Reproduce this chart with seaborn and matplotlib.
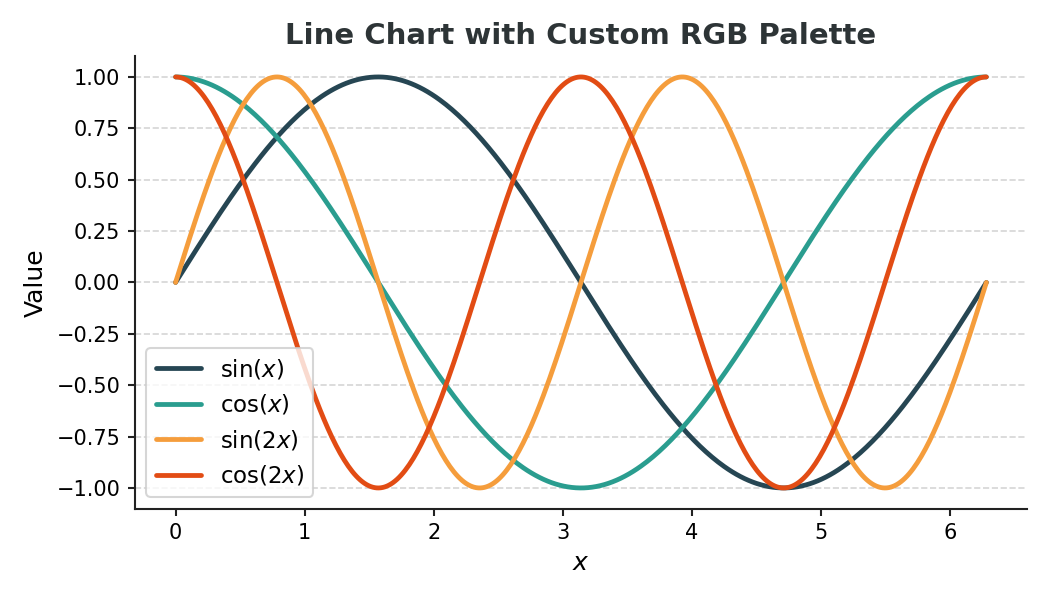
import numpy as np
import pandas as pd
import matplotlib
matplotlib.use("Agg")
import matplotlib.pyplot as plt
import seaborn as sns

# Data: the chart plots these four functions over [0, 2*pi]
x_values = np.linspace(0, 2 * np.pi, 400)
series_names = ["sin($x$)", "cos($x$)", "sin($2x$)", "cos($2x$)"]
sin_x = np.sin(x_values)
cos_x = np.cos(x_values)
sin_2x = np.sin(2 * x_values)
cos_2x = np.cos(2 * x_values)
palette_rgb = [(38, 70, 83), (42, 157, 143), (245, 157, 60), (226, 76, 20)]
y_ticks = [-1.0, -0.75, -0.5, -0.25, 0.0, 0.25, 0.5, 0.75, 1.0]

df = pd.concat([
    pd.DataFrame({"x": x_values, "Value": vals, "Function": name})
    for name, vals in zip(series_names, [sin_x, cos_x, sin_2x, cos_2x])
])

sns.set_theme(style="ticks", rc={
    "axes.edgecolor": "#222222", "xtick.color": "#222222", "ytick.color": "#222222",
    "xtick.labelcolor": "black", "ytick.labelcolor": "black",
    "text.color": "black", "axes.labelcolor": "black",
    "axes.linewidth": 1.0, "xtick.major.width": 1.0, "ytick.major.width": 1.0,
    "xtick.major.size": 3.5, "ytick.major.size": 3.5,
})
plt.rcParams["font.family"] = ["DejaVu Sans"]

fig, ax = plt.subplots(figsize=(7, 4), dpi=150)
fig.subplots_adjust(left=0.1286, right=0.978, bottom=0.1525, top=0.906)
palette = [tuple(c / 255 for c in rgb) for rgb in palette_rgb]
sns.lineplot(data=df, x="x", y="Value", hue="Function", palette=palette,
             linewidth=2.3, ax=ax)

ax.set_title("Line Chart with Custom RGB Palette", fontsize=14, fontweight="bold",
             color="#2d3436")
ax.set_xlabel("$x$", fontsize=12)
ax.set_ylabel("Value", fontsize=12)
ax.set_yticks(y_ticks)
ax.set_ylim(-1.1, 1.1)
ax.tick_params(labelsize=10)
ax.grid(axis="y", linestyle="--", color="#d5d5d5", linewidth=0.8)
ax.set_axisbelow(True)
sns.despine(ax=ax)
ax.legend(title=None, fontsize=11, loc="lower left")

fig.savefig("out.png", dpi=150)
